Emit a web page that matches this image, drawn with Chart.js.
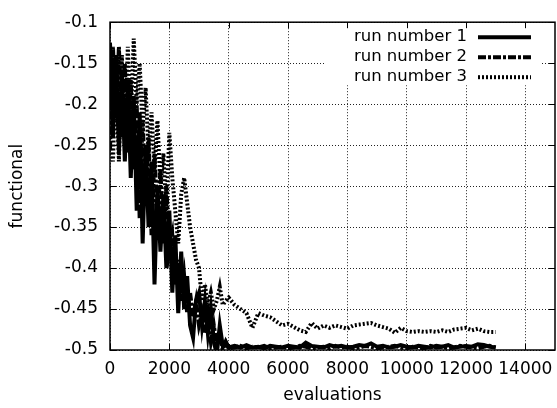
<!DOCTYPE html>
<html>
<head>
<meta charset="utf-8">
<script src="https://cdn.jsdelivr.net/npm/chart.js@4.4.0/dist/chart.umd.min.js"></script>
<style>
  html, body { margin: 0; padding: 0; background: #fff; }
  #c { display: block; }
</style>
</head>
<body>
<canvas id="c" width="557" height="408"></canvas>
<script>
// evaluations (x values shared by the three runs)
const evals = [
  0,100,200,300,400,500,600,700,800,900,
  1000,1100,1200,1300,1400,1500,1600,1700,1800,1900,
  2000,2100,2200,2300,2400,2500,2600,2700,2800,2900,
  3000,3100,3200,3300,3400,3500,3600,3700,3800,3900,4000,
  4200,4400,4600,4800,5000,5200,5400,5600,5800,6000,
  6200,6400,6600,6800,7000,7200,7400,7600,7800,8000,
  8200,8400,8600,8800,9000,9200,9400,9600,9800,10000,
  10200,10400,10600,10800,11000,11200,11400,11600,11800,12000,
  12200,12400,12600,12800,13000
];

const run1 = [
  -0.125,-0.24,-0.14,-0.26,-0.16,-0.27,-0.17,-0.29,-0.19,-0.33,
  -0.21,-0.37,-0.25,-0.35,-0.27,-0.42,-0.30,-0.38,-0.31,-0.40,
  -0.33,-0.43,-0.36,-0.455,-0.38,-0.45,-0.41,-0.47,-0.485,-0.44,
  -0.43,-0.47,-0.44,-0.48,-0.45,-0.49,-0.505,-0.47,-0.495,-0.49,-0.497,
  -0.495,-0.497,-0.494,-0.497,-0.496,-0.498,-0.495,-0.496,-0.497,-0.495,
  -0.496,-0.497,-0.491,-0.495,-0.496,-0.497,-0.494,-0.496,-0.495,-0.497,
  -0.496,-0.494,-0.495,-0.492,-0.496,-0.495,-0.497,-0.496,-0.494,-0.496,
  -0.497,-0.495,-0.496,-0.497,-0.495,-0.496,-0.494,-0.497,-0.496,-0.495,
  -0.496,-0.493,-0.494,-0.496,-0.497
];

const run2 = [
  -0.255,-0.13,-0.22,-0.13,-0.24,-0.15,-0.26,-0.17,-0.28,-0.20,
  -0.34,-0.22,-0.31,-0.24,-0.36,-0.26,-0.34,-0.28,-0.37,-0.30,
  -0.38,-0.36,-0.42,-0.39,-0.44,-0.41,-0.455,-0.43,-0.46,-0.44,
  -0.47,-0.455,-0.48,-0.46,-0.49,-0.47,-0.495,-0.48,-0.50,-0.49,-0.498,
  -0.497,-0.495,-0.498,-0.496,-0.497,-0.495,-0.498,-0.497,-0.496,-0.498,
  -0.497,-0.495,-0.496,-0.498,-0.497,-0.496,-0.498,-0.495,-0.497,-0.496,
  -0.498,-0.497,-0.495,-0.496,-0.498,-0.497,-0.496,-0.495,-0.497,-0.498,
  -0.496,-0.497,-0.498,-0.495,-0.497,-0.496,-0.498,-0.497,-0.495,-0.496,
  -0.497,-0.498,-0.496,-0.495,-0.497
];

const run3 = [
  -0.23,-0.27,-0.15,-0.27,-0.14,-0.25,-0.13,-0.22,-0.12,-0.20,
  -0.15,-0.23,-0.18,-0.26,-0.21,-0.28,-0.22,-0.30,-0.26,-0.33,
  -0.235,-0.29,-0.33,-0.37,-0.31,-0.29,-0.32,-0.35,-0.37,-0.39,
  -0.40,-0.44,-0.42,-0.445,-0.43,-0.45,-0.44,-0.423,-0.445,-0.44,-0.436,
  -0.445,-0.45,-0.455,-0.473,-0.455,-0.458,-0.46,-0.465,-0.47,-0.468,
  -0.472,-0.476,-0.478,-0.467,-0.474,-0.47,-0.473,-0.47,-0.472,-0.474,
  -0.47,-0.469,-0.468,-0.467,-0.47,-0.472,-0.474,-0.479,-0.473,-0.477,
  -0.478,-0.477,-0.478,-0.477,-0.478,-0.476,-0.478,-0.475,-0.474,-0.473,
  -0.476,-0.474,-0.477,-0.478,-0.478
];

const runNames = ['run number 1', 'run number 2', 'run number 3'];
const xTicks = [0, 2000, 4000, 6000, 8000, 10000, 12000, 14000];
const yTicks = [-0.5, -0.45, -0.4, -0.35, -0.3, -0.25, -0.2, -0.15, -0.1];

const FONT = 'DejaVu Sans';

function points(vals) {
  return vals.map((v, i) => ({ x: evals[i], y: v }));
}

// gnuplot style frame, inward ticks and the opaque key
const gnuFrame = {
  id: 'gnuFrame',
  beforeDatasetsDraw(chart) {
    const ctx = chart.ctx, a = chart.chartArea;
    ctx.save();
    ctx.fillStyle = '#fff';
    ctx.fillRect(a.right - 230, a.top + 1, 217, 62);
    ctx.restore();
  },
  afterDatasetsDraw(chart) {
    const ctx = chart.ctx, a = chart.chartArea;
    const sx = chart.scales.x, sy = chart.scales.y;
    ctx.save();

    // key
    ctx.font = '16.5px "' + FONT + '"';
    ctx.textAlign = 'right';
    ctx.textBaseline = 'middle';
    ctx.fillStyle = '#000';
    ctx.strokeStyle = '#000';
    chart.data.datasets.forEach((ds, i) => {
      const ly = a.top + 15 + i * 20;
      ctx.fillText(ds.label, a.right - 88, ly);
      ctx.setLineDash(ds.borderDash || []);
      ctx.lineWidth = ds.borderWidth;
      ctx.beginPath();
      ctx.moveTo(a.right - 77, ly);
      ctx.lineTo(a.right - 24, ly);
      ctx.stroke();
    });
    ctx.setLineDash([]);

    // border
    ctx.lineWidth = 1.5;
    ctx.strokeRect(a.left, a.top, a.right - a.left, a.bottom - a.top);

    // tick marks on all four sides
    ctx.lineWidth = 1;
    ctx.beginPath();
    sx.ticks.forEach(t => {
      const px = Math.round(sx.getPixelForValue(t.value)) + 0.5;
      ctx.moveTo(px, a.bottom); ctx.lineTo(px, a.bottom - 6);
      ctx.moveTo(px, a.top); ctx.lineTo(px, a.top + 6);
    });
    sy.ticks.forEach(t => {
      const py = Math.round(sy.getPixelForValue(t.value)) + 0.5;
      ctx.moveTo(a.left, py); ctx.lineTo(a.left + 6, py);
      ctx.moveTo(a.right, py); ctx.lineTo(a.right - 6, py);
    });
    ctx.stroke();
    ctx.restore();
  }
};

new Chart(document.getElementById('c'), {
  type: 'line',
  data: {
    datasets: [
      { label: runNames[0], data: points(run1), borderColor: '#000', borderWidth: 4, borderDash: [] },
      { label: runNames[1], data: points(run2), borderColor: '#000', borderWidth: 4, borderDash: [8, 2, 3, 2] },
      { label: runNames[2], data: points(run3), borderColor: '#000', borderWidth: 4, borderDash: [2, 2] }
    ]
  },
  options: {
    responsive: false,
    animation: false,
    events: [],
    elements: { point: { radius: 0 }, line: { tension: 0 } },
    layout: { padding: { top: 18, right: 2, left: 0, bottom: 0 } },
    plugins: {
      legend: { display: false },
      tooltip: { enabled: false }
    },
    scales: {
      x: {
        type: 'linear',
        min: 0,
        max: 15000,
        afterBuildTicks: s => { s.ticks = xTicks.map(v => ({ value: v })); },
        afterFit: s => { s.height = 58; s.paddingRight = 0; },
        grid: { color: '#222', lineWidth: 1, drawTicks: false },
        border: { display: false, dash: [1, 2] },
        ticks: {
          color: '#000', padding: 9, maxRotation: 0, autoSkip: false,
          font: { family: FONT, size: 17 },
          callback: v => String(v)
        },
        title: { display: true, text: 'evaluations', color: '#000', font: { family: FONT, size: 17 }, padding: { top: 0, bottom: 2 } }
      },
      y: {
        type: 'linear',
        min: -0.5,
        max: -0.1,
        afterBuildTicks: s => { s.ticks = yTicks.map(v => ({ value: v })); },
        afterFit: s => { s.width = 110; },
        grid: { color: '#222', lineWidth: 1, drawTicks: false },
        border: { display: false, dash: [1, 2] },
        ticks: {
          color: '#000', padding: 12, font: { family: FONT, size: 17 },
          callback: v => Number(v.toFixed(2)).toString()
        },
        title: { display: true, text: 'functional', color: '#000', font: { family: FONT, size: 17 }, padding: { top: 7, bottom: 0 } }
      }
    }
  },
  plugins: [gnuFrame]
});
</script>
</body>
</html>
